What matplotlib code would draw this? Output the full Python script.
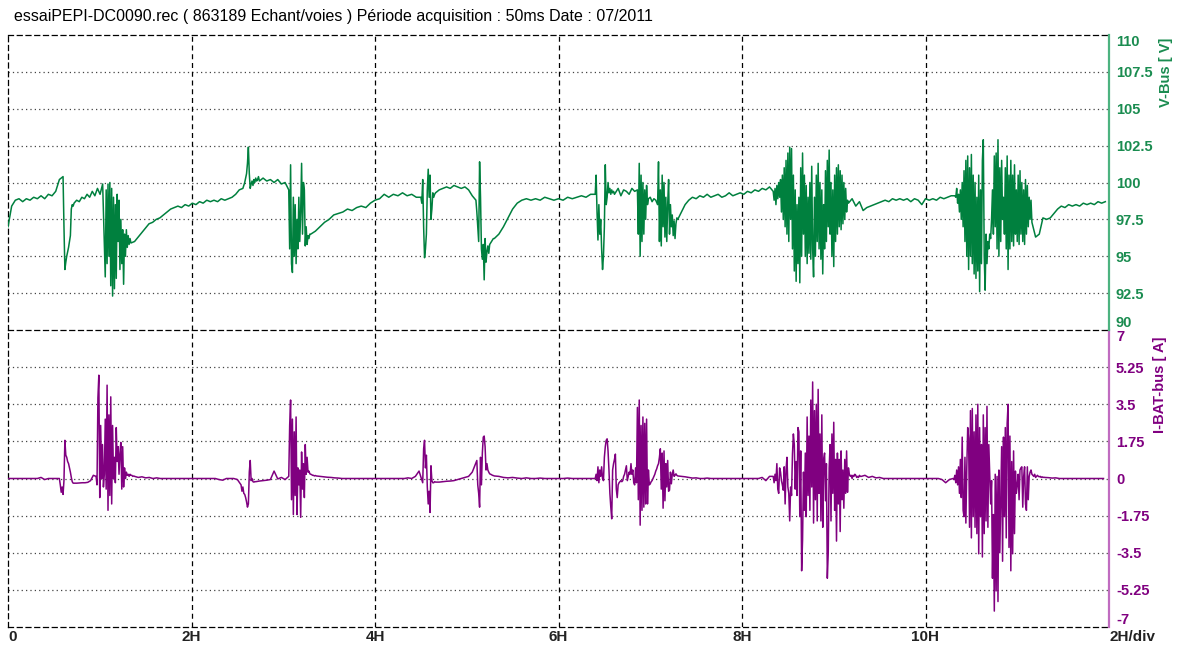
import numpy as np
import matplotlib.pyplot as plt

plt.rcParams['font.family'] = ['Liberation Sans', 'DejaVu Sans']

# V-Bus [V]: (start h, end h) of each piece
vbus_spans = [(0.00, 0.60), (0.60, 0.72), (0.72, 1.06), (1.06, 1.34), (1.34, 2.56), (2.56, 2.74),
              (2.74, 3.06), (3.06, 3.30), (3.30, 4.35), (4.35, 4.50), (4.50, 4.66), (4.66, 5.10),
              (5.10, 5.30), (5.30, 6.40), (6.40, 6.62), (6.62, 6.86), (6.86, 6.98), (6.98, 7.08),
              (7.08, 7.30), (7.30, 8.34), (8.34, 9.16), (9.16, 10.32), (10.32, 11.16), (11.16, 12.00)]
v01 = [97.0, 98.4, 98.8, 98.9, 98.7, 98.9, 98.8, 99.0, 98.9, 99.1, 98.9, 99.2, 99.1, 99.4, 100.2]
v02 = [100.4, 97.0, 94.1, 94.6, 95.0, 95.3, 95.6, 96.0, 96.4, 98.2, 98.5, 98.4]
v03 = [98.6, 98.8, 98.7, 99.0, 98.9, 99.2, 99.0, 99.4, 99.1, 99.6, 99.2, 99.9]
v04 = [93.6, 99.5, 94.5, 99.9, 95.0, 100.0, 93.0, 99.6, 92.3, 99.0, 92.8, 98.5, 93.5, 99.2,
       96.0, 98.8, 94.1, 97.5, 94.5, 96.8, 93.1, 96.5, 95.0, 96.8, 95.6, 96.4, 95.8, 96.2]
v05 = [95.9, 96.0, 96.3, 96.6, 96.9, 97.2, 97.3, 97.5, 97.6, 97.8, 98.0, 98.2, 98.3, 98.4, 98.3, 98.5,
       98.4, 98.6, 98.5, 98.7, 98.6, 98.8, 98.7, 98.8, 98.7, 98.9, 98.8, 98.9, 99.0, 99.2, 99.5]
v06 = [99.6, 99.8, 100.0, 100.3, 100.6, 101.3, 102.4, 100.6, 99.6, 99.9, 100.1, 99.8, 100.2, 100.0,
       100.3, 100.1, 100.2, 100.4]
v07 = [100.1, 100.3, 100.1, 100.2, 100.0, 100.2, 99.9, 100.0]
v08 = [99.5, 95.5, 101.2, 94.5, 93.9, 99.0, 95.0, 98.5, 94.5, 97.5, 95.5, 99.0, 96.0, 98.0, 101.3,
       96.5, 100.0, 99.5, 95.7, 97.0, 95.8, 96.4, 96.2, 96.5]
v09 = [96.5, 96.7, 97.0, 97.3, 97.5, 97.8, 97.9, 98.0, 98.2, 98.1, 98.3, 98.4, 98.3, 98.6, 98.8, 98.9,
       99.2, 99.0, 99.2, 99.1, 99.3]
v10 = [99.1, 99.2, 99.0]
v11 = [99.0, 98.6, 100.2, 97.0, 94.9, 95.5, 96.5, 99.5, 100.9, 99.0, 100.5, 97.5, 98.2, 99.3, 99.0, 99.2]
v12 = [99.3, 99.5, 99.6, 99.7, 99.6, 99.8, 99.7, 99.6, 99.7, 99.5, 99.1]
v13 = [98.8, 98.0, 97.0, 96.0, 101.4, 99.0, 95.5, 94.8, 95.8, 93.4, 96.2, 94.6, 95.3, 95.7, 95.2,
       95.8, 95.9, 96.0, 96.1, 96.2]
v14 = [96.2, 96.5, 97.0, 97.6, 98.2, 98.6, 98.8, 98.9, 98.8, 98.9, 98.8, 99.0, 98.9, 98.8, 98.9,
       98.8, 99.0, 98.9, 99.0, 99.1, 99.0, 99.2]
v15 = [99.2, 100.5, 98.0, 96.1, 98.5, 96.5, 97.5, 95.5, 94.1, 95.0, 97.0, 101.2, 98.5, 99.0, 100.0,
       99.3, 99.6, 99.2, 99.5, 99.3, 99.4, 99.2]
v16 = [99.3, 99.6, 99.1, 99.5, 99.4, 99.2, 99.6, 99.4]
v17 = [99.5, 96.5, 101.3, 95.0, 100.5, 96.0, 100.0, 96.5, 99.5, 97.5, 99.8, 98.5]
v18 = [98.9, 99.0, 98.7, 98.9, 98.8]
v19 = [98.5, 101.4, 96.0, 99.5, 95.7, 100.5, 97.0, 100.0, 96.3, 99.0, 96.0, 98.5, 100.2, 96.5, 98.5,
       97.0, 97.8, 96.4, 97.4, 96.2, 97.2, 97.6]
v20 = [97.5, 98.0, 98.5, 98.8, 99.0, 98.9, 99.1, 99.0, 99.2, 99.0, 99.1, 99.2, 99.0, 99.1, 99.3, 99.1,
       99.2, 99.3, 99.2, 99.4, 99.3, 99.5, 99.4, 99.6, 99.5, 99.7]
v21 = [99.4, 98.8, 99.6, 98.5, 99.8, 98.9, 100.0, 99.0, 100.2, 98.0, 100.5, 97.5, 101.0, 97.0, 101.5,
       96.5, 102.0, 96.0, 102.4, 97.5, 102.3, 95.5, 100.5, 94.0, 99.5, 93.3, 98.5, 94.5, 99.0, 93.2,
       101.0, 95.0, 102.0, 96.5, 100.5, 95.0, 99.8, 94.5, 99.0, 95.2, 100.0, 94.8, 101.1, 95.5, 93.6,
       99.0, 95.0, 100.5, 96.0, 101.3, 95.5, 100.0, 94.8, 99.5, 93.8, 98.5, 95.5, 100.8, 96.0, 101.5,
       97.0, 102.2, 96.5, 100.0, 95.0, 99.5, 94.3, 100.5, 96.0, 101.0, 96.5, 101.2, 97.0, 100.8, 96.8,
       100.5, 97.2, 100.0, 97.5, 99.6, 98.0, 98.8]
v22 = [98.6, 98.9, 98.4, 98.7, 98.1, 98.3, 98.4, 98.5, 98.6, 98.7, 98.8, 98.7, 98.9, 98.8, 98.9, 98.8,
       98.9, 98.7, 98.9, 98.8, 98.5, 98.9, 98.8, 98.9, 98.8, 99.0, 98.9, 99.0, 99.1]
v23 = [99.1, 99.0, 99.6, 98.6, 99.2, 98.0, 99.5, 97.5, 100.0, 97.0, 100.8, 96.0, 101.5, 95.0, 101.8,
       94.1, 101.0, 95.0, 101.9, 94.5, 100.5, 93.8, 100.0, 93.5, 99.0, 94.0, 100.5, 92.6, 99.5, 94.5,
       101.5, 102.9, 95.0, 92.7, 96.5, 94.5, 96.0, 95.5, 96.5, 96.2, 97.5, 99.5, 96.5, 101.8, 97.0,
       102.0, 95.5, 102.9, 95.0, 101.0, 96.0, 101.5, 97.5, 99.0, 96.5, 101.0, 95.5, 101.8, 94.1, 100.5,
       95.5, 101.5, 96.0, 100.5, 95.7, 101.2, 96.5, 99.5, 96.0, 100.5, 95.8, 100.8, 96.5, 100.0, 96.0,
       99.5, 95.8, 100.2, 96.5, 99.8, 97.0, 99.0, 97.5, 98.8]
v24 = [97.3, 96.3, 96.5, 97.6, 97.5, 97.6, 97.9, 98.2, 98.4, 98.3, 98.5, 98.4, 98.5, 98.4, 98.6, 98.5,
       98.6, 98.5, 98.7, 98.6, 98.7]
vbus_pieces = [v01, v02, v03, v04, v05, v06, v07, v08, v09, v10, v11, v12,
               v13, v14, v15, v16, v17, v18, v19, v20, v21, v22, v23, v24]

# I-BAT-bus [A], same way
ibat_spans = [(0.00, 0.56), (0.56, 0.72), (0.72, 0.96), (0.96, 1.38), (1.38, 2.54), (2.54, 2.70),
              (2.70, 3.06), (3.06, 3.36), (3.36, 4.52), (4.52, 4.66), (4.66, 5.10), (5.10, 5.30),
              (5.30, 6.40), (6.40, 7.00), (7.00, 7.30), (7.30, 8.34), (8.34, 9.30), (9.30, 10.30),
              (10.30, 11.30), (11.30, 11.98)]
i01 = [0.0, 0.0, 0.0, 0.0, 0.0, 0.0, 0.0, 0.0, 0.0, 0.05, -0.05, 0.0, 0.0, 0.0]
i02 = [0.0, -0.3, -0.65, -0.4, -0.75, -0.1, 1.8, 1.1, 1.0, 0.8, 0.7, 0.5, 0.3, 0.05, -0.15, -0.22]
i03 = [-0.22, -0.22, -0.21, -0.2, -0.2, -0.18, -0.1, 0.15]
i04 = [0.1, -0.3, 3.8, 4.87, -0.9, 2.5, 0.0, 1.6, -0.4, 0.2, 2.8, -0.5, 4.4, -1.5, 3.0, -0.8, 3.85,
       -1.2, 2.5, 0.0, 1.0, -0.2, 2.4, 0.8, 1.5, 0.2, 1.2, 1.7, -0.5, 1.5, -0.4, 0.5, 0.0, 0.3, 0.15,
       0.2, 0.1, 0.2, 0.15, 0.15, 0.1, 0.12]
i05 = [0.1, 0.05, 0.08, 0.03, 0.05, 0.0, 0.03, 0.0, 0.0, 0.0, 0.0, 0.0, 0.0, 0.0, 0.0, 0.0, 0.0, 0.0,
       0.0, 0.0, 0.0, 0.0, 0.0, -0.05, -0.08, 0.0, 0.0, 0.0, -0.05]
i06 = [-0.3, -0.6, -0.4, -0.7, -0.75, -0.9, -1.1, -1.35, -1.2, 0.3, 0.85, -0.1, 0.0, -0.15, -0.17, -0.15]
i07 = [-0.15, -0.12, -0.1, -0.08, -0.05, 0.35, -0.02, 0.05, -0.05]
i08 = [0.1, 2.5, 3.7, -1.0, 2.8, -1.7, 2.2, -0.8, 2.9, -1.7, 0.5, -0.3, 0.4, -1.83, 1.25, -0.5, 0.7,
       -0.9, 1.6, 0.2, 1.0, 0.3, 0.35, 0.22, 0.2, 0.18, 0.15, 0.15, 0.12, 0.14]
i09 = [0.12, 0.1, 0.08, 0.06, 0.05, 0.03, 0.02, 0.0, 0.0, 0.0, 0.0, 0.0, 0.0, 0.0, 0.0, 0.0, 0.0,
       0.0, 0.0, 0.0, 0.0, 0.0, 0.0, 0.0, 0.0, 0.03, 0.0, 0.1, 0.35]
i10 = [-0.2, 1.4, 1.8, 0.5, 1.1, -0.4, -1.2, -0.6, -1.6, 0.6, -0.1, -0.2, -0.2, -0.15]
i11 = [-0.17, -0.17, -0.15, -0.13, -0.12, -0.1, -0.05, 0.0, 0.05, 0.1, 0.3]
i12 = [0.75, 0.85, -0.3, -0.7, -1.35, 1.0, -0.3, 1.2, 1.95, 2.0, 1.5, 0.4, 0.7, 0.4, 0.3, 0.22, 0.2,
       0.18, 0.15, 0.14]
i13 = [0.12, 0.1, 0.05, 0.03, 0.05, 0.02, 0.0, 0.03, 0.0, 0.0, 0.02, 0.0, 0.0, 0.0, 0.0, 0.0, 0.02,
       0.0, 0.0, 0.0, 0.0, 0.0]
i14 = [0.0, 0.2, -0.1, 0.55, -0.2, 0.4, 0.1, 0.55, 0.0, -0.1, 1.0, 1.5, 1.8, 1.87, 1.3, 0.4, -0.7,
       -1.35, -1.9, 0.4, 0.7, 0.9, 1.15, -0.5, -0.9, -0.3, -0.2, -0.15, -0.1, -0.15, -0.1, 0.1, 0.2,
       0.4, 0.6, -0.1, 0.1, 0.3, 0.2, 0.7, 0.2, 0.4, -0.2, -0.3, 0.5, -0.2, 3.35, -1.0, 3.7, -2.2, 2.5,
       -1.5, 2.9, -1.35, 2.6, -1.2, 2.8, -1.2, 0.4, -0.3]
i15 = [-0.25, -0.15, -0.1, 0.0, 0.1, 0.2, 0.35, 0.45, 0.6, 0.7, 1.0, 1.4, -0.5, 1.2, -1.4, 1.3, -1.05,
       0.7, -0.4, 0.85, -0.6, -0.55, 0.3, -0.25, 0.2, 0.4, 0.1, 0.15, 0.22, 0.15]
i16 = [0.12, 0.1, 0.08, 0.05, 0.02, 0.03, 0.0, 0.0, 0.02, 0.0, 0.0, 0.0, 0.0, 0.0, 0.0, 0.0, 0.0,
       0.0, 0.0, 0.0, 0.0, 0.0, 0.0, 0.05, -0.1, 0.1]
i17 = [0.1, -0.2, 0.2, -0.1, 0.7, -0.5, -0.7, 0.5, 0.3, -0.1, -0.3, -0.55, 0.55, -1.2, 0.4, 1.0,
       -0.4, -0.7, -2.0, -0.4, -0.8, 1.15, 2.1, 1.6, -0.5, 0.8, -0.8, 2.4, 2.2, -1.8, 1.3, -4.35, -2.9,
       0.3, -1.5, 1.2, -1.8, 2.9, -0.8, 2.0, -1.5, 3.7, -0.4, 4.55, -2.1, 3.2, -1.0, 3.5, -2.0, 4.2,
       -0.7, 2.1, -2.0, 3.0, -2.3, 0.9, 1.2, -1.05, 0.7, -4.7, -3.5, 0.5, 1.6, -2.0, 2.1, -0.7, 2.65,
       -1.5, 0.9, -2.95, 1.2, -1.2, 0.9, -2.5, 1.3, -1.0, 0.4, -1.4, 0.9, -0.7, 1.3, -0.65, 0.5, 0.2,
       0.1, 0.15, 0.0, 0.15, 0.1, 0.2, 0.15, 0.05, 0.1, 0.05, 0.15, 0.1]
i18 = [0.1, 0.15, 0.05, 0.1, 0.03, 0.05, 0.0, 0.0, 0.0, 0.0, 0.0, 0.0, 0.0, 0.0, 0.0, 0.0, 0.0, 0.0,
       0.0, 0.0, 0.0, 0.0, -0.05, -0.2, -0.05]
i19 = [0.0, -0.05, 0.15, -0.2, 0.4, -0.3, 0.55, -0.7, 0.9, -0.9, 1.95, -1.5, -1.8, 1.0, -2.1, 0.5,
       2.4, 1.9, -2.3, 3.2, -2.8, 3.3, -1.8, 2.2, -2.3, 3.0, -2.6, 3.5, -3.55, 2.4, -1.8, 1.6, -3.7,
       3.0, -2.6, 2.4, -2.0, 3.4, -2.3, 1.6, 0.2, -1.2, -0.1, -4.7, -1.7, -6.25, 0.2, -5.3, 0.1, -5.8,
       0.4, -3.5, -1.0, 1.5, -3.9, 1.95, -1.8, 2.4, -2.8, 2.6, 3.5, -3.25, 2.0, -4.35, 0.8, -3.55, 1.3,
       -2.6, 0.35, -0.7, -0.3, 0.2, -1.0, 0.4, 0.5, 0.55, -1.35, 0.1, 0.55, -1.2, -1.5, 0.55, -1.0,
       0.1, 0.3, 0.4, 0.2, 0.15, 0.1, 0.2, 0.05, 0.1, 0.15, 0.1, 0.08, 0.1, 0.05, 0.08, 0.05, 0.06]
i20 = [0.05, 0.04, 0.02, 0.03, 0.0, 0.0, 0.0, 0.0, 0.0, 0.0, 0.0, 0.0, 0.0, 0.0, 0.0, 0.0, 0.0]
ibat_pieces = [i01, i02, i03, i04, i05, i06, i07, i08, i09, i10,
               i11, i12, i13, i14, i15, i16, i17, i18, i19, i20]

v_ticks = [90, 92.5, 95, 97.5, 100, 102.5, 105, 107.5, 110]
v_labels = ['90', '92.5', '95', '97.5', '100', '102.5', '105', '107.5', '110']
i_ticks = [-7, -5.25, -3.5, -1.75, 0, 1.75, 3.5, 5.25, 7]
i_labels = ['-7', '-5.25', '-3.5', '-1.75', '0', '1.75', '3.5', '5.25', '7']
x_ticks = [0, 2, 4, 6, 8, 10, 12]
x_labels = ['0', '2H', '4H', '6H', '8H', '10H', '2H/div']


def join(spans, pieces):
    tt, yy = [], []
    for (t0, t1), vals in zip(spans, pieces):
        tt.append(np.linspace(t0, t1, len(vals), endpoint=False))
        yy.append(vals)
    return np.concatenate(tt), np.concatenate(yy)


t_v, vbus = join(vbus_spans, vbus_pieces)
t_i, ibat = join(ibat_spans, ibat_pieces)

green = '#00803e'
green_txt = '#1a8c50'
purple = '#800080'

W, H = 1179, 645
fig = plt.figure(figsize=(W / 100, H / 100), dpi=100)
x0, x1 = 8 / W, 1109 / W
ax2 = fig.add_axes([x0, 1 - 627 / H, x1 - x0, 297 / H])
ax1 = fig.add_axes([x0, 1 - 330 / H, x1 - x0, 295 / H])

panels = [(ax1, t_v, vbus, green, green_txt, '#4db380', v_ticks, v_labels),
          (ax2, t_i, ibat, purple, purple, '#c06cc0', i_ticks, i_labels)]
for ax, t, y, col, tcol, scol, ticks, labels in panels:
    ax.patch.set_visible(False)
    ax.plot(t, y, color=col, lw=1.1, zorder=3)
    ax.set_xlim(0, 12)
    ax.set_ylim(ticks[0], ticks[-1])
    for v in ticks[1:-1]:
        ax.axhline(v, color='#444444', lw=0.9, ls=(0, (1, 2.5)), zorder=1)
    for v in x_ticks[1:-1]:
        ax.axvline(v, color='black', lw=0.9, ls=(0, (4, 3)), zorder=1)
    for s in ['left', 'top', 'bottom']:
        ax.spines[s].set_linestyle((0, (4, 3)))
        ax.spines[s].set_linewidth(0.9)
    ax.spines['right'].set_color(scol)
    ax.spines['right'].set_linewidth(1.6)
    ax.yaxis.tick_right()
    ax.set_yticks(ticks)
    ax.set_yticklabels(labels, fontweight='bold')
    ax.tick_params(axis='y', length=0, pad=5, labelsize=10.5, labelcolor=tcol)
    ylab = ax.get_yticklabels()
    ylab[0].set_verticalalignment('bottom')
    ylab[-1].set_verticalalignment('top')

ax2.spines['top'].set_visible(False)
ax1.set_xticks(x_ticks)
ax1.tick_params(axis='x', length=0, labelbottom=False)
ax2.set_xticks(x_ticks)
ax2.set_xticklabels(x_labels, fontweight='bold')
ax2.tick_params(axis='x', length=0, pad=2, labelsize=11, labelcolor='#222222')
xl = ax2.get_xticklabels()
xl[0].set_horizontalalignment('left')
xl[-1].set_horizontalalignment('left')

fig.text(14 / W, 1 - 17 / H, 'essaiPEPI-DC0090.rec ( 863189 Echant/voies ) Période acquisition : 50ms Date : 07/2011',
         fontsize=11.5, va='center', ha='left')
fig.text(1166 / W, 1 - 38 / H, 'V-Bus [ V]', rotation=90, color=green_txt, fontsize=10.5,
         fontweight='bold', va='top', ha='center')
fig.text(1160 / W, 1 - 337 / H, 'I-BAT-bus [ A]', rotation=90, color=purple, fontsize=10.5,
         fontweight='bold', va='top', ha='center')

fig.savefig('out.png', dpi=100)
